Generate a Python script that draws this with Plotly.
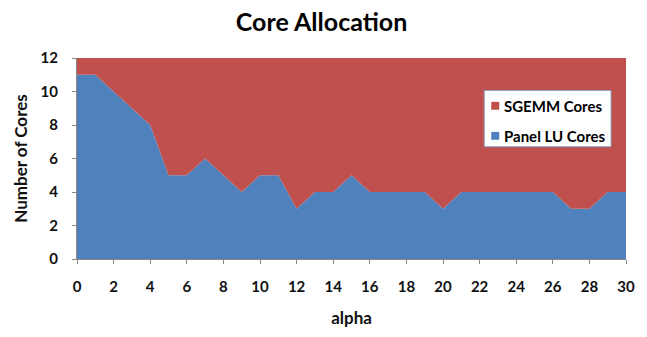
import plotly.graph_objects as go

alpha = list(range(0, 31))
panel_lu_cores = [11, 11, 10, 9, 8, 5, 5, 6, 5, 4, 5, 5, 3, 4, 4, 5,
                  4, 4, 4, 4, 3, 4, 4, 4, 4, 4, 4, 3, 3, 4, 4]
total_cores = 12
sgemm_cores = [total_cores - v for v in panel_lu_cores]
legend_names = ["SGEMM Cores", "Panel LU Cores"]

BLUE = "#4F81BD"
RED = "#C0504D"
AXIS = "#868686"
FONT = "Lato"

W, H = 647, 337
L, R, T, B = 77, 20, 58, 75
PW, PH = W - L - R, H - T - B


def px(x):
    return (x - L) / PW


def py(y):
    return (H - B - y) / PH


fig = go.Figure()

# stacked areas
fig.add_trace(go.Scatter(
    x=alpha, y=panel_lu_cores, stackgroup="cores", mode="none",
    fillcolor=BLUE, name=legend_names[1], showlegend=False,
))
fig.add_trace(go.Scatter(
    x=alpha, y=sgemm_cores, stackgroup="cores", mode="none",
    fillcolor=RED, name=legend_names[0], showlegend=False,
))

# legend box with square swatches
shapes = [dict(type="rect", xref="paper", yref="paper",
               x0=px(485), x1=px(612), y0=py(148), y1=py(91),
               fillcolor="white", line=dict(color="#8EA4C4", width=1))]
annotations = []
for name, color, cy in zip(legend_names, [RED, BLUE], [106.5, 137]):
    shapes.append(dict(type="rect", xref="paper", yref="paper",
                       x0=px(492), x1=px(500), y0=py(cy + 4), y1=py(cy - 4),
                       fillcolor=color, line=dict(width=0)))
    annotations.append(dict(text=name, xref="paper", yref="paper",
                            x=px(503), y=py(cy), xanchor="left", yanchor="middle",
                            showarrow=False,
                            font=dict(family=FONT, size=15, color="black",
                                      weight="bold")))

fig.update_layout(
    width=W, height=H,
    margin=dict(l=L, r=R, t=T, b=B),
    paper_bgcolor="white", plot_bgcolor="white",
    showlegend=False,
    shapes=shapes, annotations=annotations,
    font=dict(family=FONT, size=15, color="#111111", weight="bold"),
    title=dict(text="Core Allocation", x=0.497, xanchor="center",
               y=0.935, yanchor="middle",
               font=dict(family=FONT, size=25, color="black", weight="bold")),
    xaxis=dict(
        range=[0, 30], tickmode="linear", tick0=0, dtick=2,
        showline=True, linecolor=AXIS, linewidth=1,
        ticks="outside", ticklen=4, tickcolor=AXIS,
        showgrid=False, zeroline=False, ticklabelstandoff=10,
        title=dict(text="alpha", standoff=18,
                   font=dict(family=FONT, size=17, weight="bold")),
    ),
    yaxis=dict(
        range=[0, 12], tickmode="linear", tick0=0, dtick=2,
        showline=True, linecolor=AXIS, linewidth=1,
        ticks="outside", ticklen=4, tickcolor=AXIS,
        showgrid=False, zeroline=False, ticklabelstandoff=11,
        title=dict(text="Number of Cores", standoff=8,
                   font=dict(family=FONT, size=17, weight="bold")),
    ),
)

fig.write_html("out.html")
